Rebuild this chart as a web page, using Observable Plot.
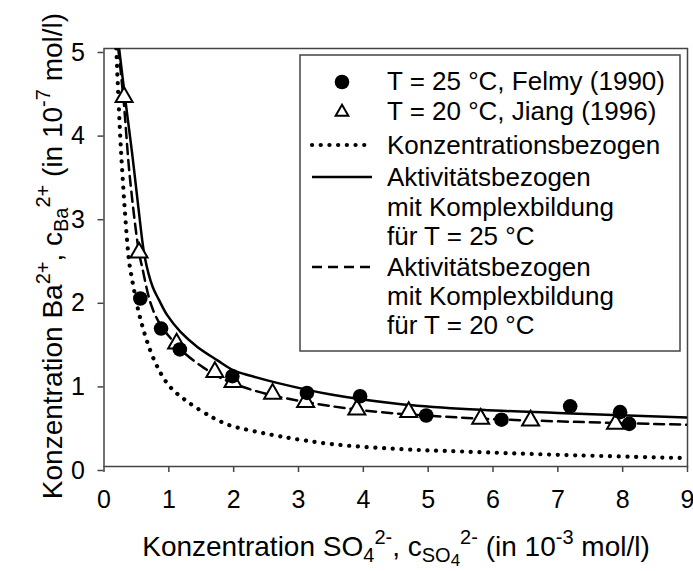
<!DOCTYPE html>
<html>
<head>
<meta charset="utf-8">
<script src="https://cdn.jsdelivr.net/npm/d3@7"></script>
<script src="https://cdn.jsdelivr.net/npm/@observablehq/plot@0.6"></script>
<style>
  html, body { margin: 0; padding: 0; background: #fff; }
  #chart svg { display: block; }
</style>
</head>
<body>
<div id="chart"></div>
<script>
// Axis ticks
const xTicks = [0, 1, 2, 3, 4, 5, 6, 7, 8, 9];
const yTicks = [0, 1, 2, 3, 4, 5];

// Measurements: T = 25 °C, Felmy (1990)
const felmyX = [0.56, 0.88, 1.17, 1.98, 3.13, 3.95, 4.97, 6.13, 7.19, 7.96, 8.10];
const felmyY = [2.01, 1.65, 1.40, 1.08, 0.88, 0.84, 0.61, 0.56, 0.72, 0.65, 0.51];

// Measurements: T = 20 °C, Jiang (1996)
const jiangX = [0.31, 0.54, 1.12, 1.71, 1.99, 2.60, 3.11, 3.90, 4.70, 5.81, 6.58, 7.89];
const jiangY = [4.42, 2.56, 1.47, 1.13, 1.01, 0.87, 0.77, 0.68, 0.65, 0.57, 0.55, 0.51];

// Model: concentration based
const konzX = [0.19, 0.265, 0.38, 0.41, 0.56, 0.77, 1.00, 1.28, 1.69, 1.95, 2.21, 2.72, 3.49, 4.52, 5.50, 7.00, 9.00];
const konzY = [5.00, 3.74, 2.50, 2.34, 1.77, 1.28, 0.97, 0.78, 0.58, 0.49, 0.44, 0.36, 0.27, 0.21, 0.18, 0.14, 0.10];

// Model: activity based with complexation, T = 25 °C
const akt25X = [0.23, 0.33, 0.435, 0.53, 0.63, 0.75, 0.85, 0.975, 1.18, 1.44, 1.75, 2.00, 2.26, 2.67, 3.50, 4.52, 5.50, 7.00, 9.00];
const akt25Y = [5.02, 4.38, 3.74, 3.10, 2.50, 2.15, 1.99, 1.81, 1.61, 1.43, 1.27, 1.15, 1.085, 1.00, 0.86, 0.75, 0.69, 0.64, 0.585];

// Model: activity based with complexation, T = 20 °C
const akt20X = [0.22, 0.30, 0.40, 0.54, 0.59, 0.72, 0.85, 1.00, 1.15, 1.28, 1.54, 1.80, 2.11, 2.50, 2.98, 4.01, 5.50, 7.00, 9.00];
const akt20Y = [5.00, 4.40, 3.45, 2.56, 2.38, 1.95, 1.72, 1.56, 1.43, 1.33, 1.18, 1.06, 0.96, 0.87, 0.79, 0.67, 0.585, 0.54, 0.50];

const zip = (xs, ys) => xs.map((x, i) => ({x, y: ys[i]}));
const felmy = zip(felmyX, felmyY);
const jiang = zip(jiangX, jiangY);
const konz = zip(konzX, konzY);
const akt25 = zip(akt25X, akt25Y);
const akt20 = zip(akt20X, akt20Y);

const FONT = "'Liberation Sans', Arial, Helvetica, sans-serif";
const AXIS = "#444";

const plot = Plot.plot({
  width: 693,
  height: 571,
  marginLeft: 103.5,
  marginRight: 6,
  marginTop: 48,
  marginBottom: 105,
  style: {fontFamily: FONT, background: "#fff", color: "#000"},
  x: {domain: [0, 9]},
  y: {domain: [0, 5]},
  marks: [
    Plot.frame({stroke: AXIS, strokeWidth: 1.5}),
    Plot.axisX({ticks: xTicks, tickFormat: d => String(d), tickSize: 6, tickPadding: 18, fontSize: 25, stroke: AXIS, strokeWidth: 1.5, fill: "#000", label: null}),
    Plot.axisY({ticks: yTicks, tickFormat: d => String(d), tickSize: 6, tickPadding: 13, fontSize: 25, dy: 4, stroke: AXIS, strokeWidth: 1.5, fill: "#000", label: null}),
    Plot.line(konz, {x: "x", y: "y", curve: "catmull-rom", stroke: "#000", strokeWidth: 4.2, strokeDasharray: "0.1,8.6", strokeLinecap: "round", clip: true}),
    Plot.line(akt20, {x: "x", y: "y", curve: "catmull-rom", stroke: "#000", strokeWidth: 2.5, strokeDasharray: "10,6", clip: true}),
    Plot.line(akt25, {x: "x", y: "y", curve: "catmull-rom", stroke: "#000", strokeWidth: 2.5, clip: true}),
    Plot.dot(jiang, {x: "x", y: "y", symbol: "triangle", r: 6.3, fill: "#fff", stroke: "#000", strokeWidth: 2}),
    Plot.dot(felmy, {x: "x", y: "y", r: 7.3, fill: "#000", stroke: "none"})
  ]
});
document.getElementById("chart").append(plot);

const svg = d3.select(plot);

// Writes a text made of parts; each part may be raised ("sup") or lowered ("sub").
function richText(sel, parts, size) {
  let shift = 0;
  parts.forEach(p => {
    const [str, kind] = typeof p === "string" ? [p, null] : p;
    let target = 0;
    if (kind === "sup") target = -size * 0.42;
    if (kind === "sub") target = size * 0.22;
    if (kind === "subsub") target = size * 0.36;
    const ts = sel.append("tspan").text(str).attr("dy", target - shift);
    if (kind) ts.attr("font-size", Math.round(size * (kind === "subsub" ? 0.6 : 0.72)));
    shift = target;
  });
  if (shift !== 0) sel.append("tspan").text("").attr("dy", -shift);
}

// Axis titles
const xTitle = svg.append("text")
  .attr("x", 396).attr("y", 556)
  .attr("text-anchor", "middle")
  .attr("font-family", FONT).attr("font-size", 28).attr("fill", "#000");
richText(xTitle, [
  "Konzentration SO", ["4", "sub"], ["2-", "sup"], ", c", ["SO", "sub"], ["4", "subsub"], ["2-", "sup"],
  " (in 10", ["-3", "sup"], " mol/l)"
], 28);

const yTitle = svg.append("text")
  .attr("transform", "translate(62,256) rotate(-90)")
  .attr("text-anchor", "middle")
  .attr("font-family", FONT).attr("font-size", 28).attr("fill", "#000");
richText(yTitle, [
  "Konzentration Ba", ["2+", "sup"], ", c", ["Ba", "sub"], ["2+", "sup"],
  " (in 10", ["-7", "sup"], " mol/l)"
], 28);

// Legend
const lg = svg.append("g")
  .attr("font-family", FONT).attr("font-size", 26).attr("fill", "#000").attr("text-anchor", "start");
lg.append("rect").attr("x", 300).attr("y", 55).attr("width", 380).attr("height", 296)
  .attr("fill", "#fff").attr("stroke", AXIS).attr("stroke-width", 1.5);
lg.append("circle").attr("cx", 342).attr("cy", 82).attr("r", 7.3).attr("fill", "#000");
lg.append("path").attr("d", d3.symbol(d3.symbolTriangle, 70)()).attr("transform", "translate(342,112)")
  .attr("fill", "#fff").attr("stroke", "#000").attr("stroke-width", 2);
lg.append("line").attr("x1", 312).attr("x2", 369).attr("y1", 145).attr("y2", 145)
  .attr("stroke", "#000").attr("stroke-width", 4.2).attr("stroke-dasharray", "0.1,8.6").attr("stroke-linecap", "round");
lg.append("line").attr("x1", 312).attr("x2", 372).attr("y1", 177).attr("y2", 177)
  .attr("stroke", "#000").attr("stroke-width", 2.5);
lg.append("line").attr("x1", 312).attr("x2", 373).attr("y1", 267).attr("y2", 267)
  .attr("stroke", "#000").attr("stroke-width", 2.5).attr("stroke-dasharray", "10,6");

const legendLines = [
  ["T = 25 °C, Felmy (1990)", 90],
  ["T = 20 °C, Jiang (1996)", 120],
  ["Konzentrationsbezogen", 154],
  ["Aktivitätsbezogen", 186],
  ["mit Komplexbildung", 216],
  ["für T = 25 °C", 245],
  ["Aktivitätsbezogen", 276],
  ["mit Komplexbildung", 305],
  ["für T = 20 °C", 334]
];
legendLines.forEach(([t, y]) => lg.append("text").attr("x", 387).attr("y", y).text(t));
</script>
</body>
</html>
